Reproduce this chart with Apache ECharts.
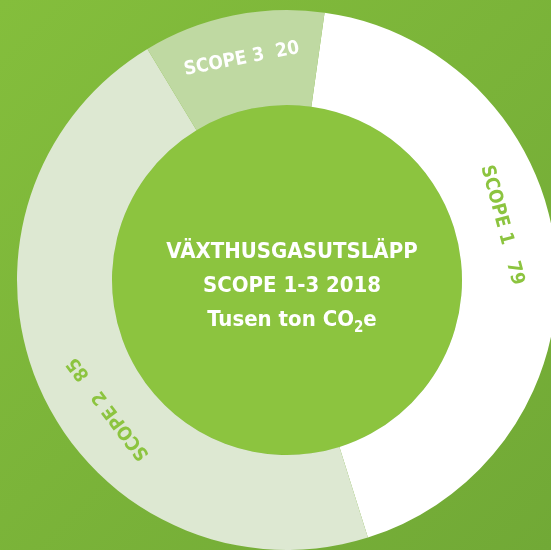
<!DOCTYPE html>
<html>
<head>
<meta charset="utf-8">
<script src="https://cdn.jsdelivr.net/npm/echarts@6/dist/echarts.min.js"></script>
<style>
  html, body { margin: 0; padding: 0; }
  #chart { width: 551px; height: 550px; }
</style>
</head>
<body>
<div id="chart"></div>
<script>
// scope categories and values (tusen ton CO2e)
var categories = ['SCOPE 1', 'SCOPE 2', 'SCOPE 3'];
var values = [79, 85, 20];
var sliceColors = ['#ffffff', '#dde8d2', '#bfd9a2'];
var labelColors = ['#8cc43f', '#8cc43f', '#ffffff'];
var labelFormats = ['{b}   {c}', '{b}   {c}', '{b}  {c}'];
var labelRotate = [-75, 127, 11];
var labelPad = [[18, 75, 0, 0], [12, 90, 0, 0], [18, 0, 0, 0]];
var titleLines = ['VÄXTHUSGASUTSLÄPP', 'SCOPE 1-3 2018', 'Tusen ton CO{sub|2}e'];

var font = "'Liberation Sans Narrow', 'DejaVu Sans Condensed', sans-serif";

var myChart = echarts.init(document.getElementById('chart'));

var ringData = [];
for (var i = 0; i < categories.length; i++) {
    ringData.push({
        name: categories[i],
        value: values[i],
        itemStyle: { color: sliceColors[i] },
        label: {
            color: labelColors[i],
            formatter: labelFormats[i],
            rotate: labelRotate[i],
            padding: labelPad[i]
        }
    });
}

myChart.setOption({
    backgroundColor: {
        type: 'linear', x: 0, y: 0, x2: 1, y2: 1,
        colorStops: [
            { offset: 0, color: '#84be3c' },
            { offset: 1, color: '#71a936' }
        ]
    },
    title: {
        text: titleLines.join('\n'),
        left: 287,
        top: 281,
        textAlign: 'center',
        textVerticalAlign: 'middle',
        textStyle: {
            color: '#ffffff',
            fontFamily: font,
            fontWeight: 'bold',
            fontSize: 22,
            lineHeight: 34,
            rich: {
                sub: {
                    color: '#ffffff',
                    fontFamily: font,
                    fontWeight: 'bold',
                    fontSize: 15,
                    padding: [16, 0, 0, 0]
                }
            }
        }
    },
    series: [
        {
            // centre disc
            type: 'pie',
            center: [287, 280],
            radius: [0, 175],
            silent: true,
            label: { show: false },
            data: [{ value: 1, itemStyle: { color: '#8cc43f' } }]
        },
        {
            type: 'pie',
            center: [287, 280],
            radius: [175, 270],
            startAngle: 82,
            clockwise: true,
            silent: true,
            avoidLabelOverlap: false,
            itemStyle: { borderWidth: 0 },
            label: {
                show: true,
                position: 'inside',
                fontFamily: font,
                fontWeight: 'bold',
                fontSize: 19
            },
            labelLine: { show: false },
            data: ringData
        }
    ]
});
</script>
</body>
</html>
